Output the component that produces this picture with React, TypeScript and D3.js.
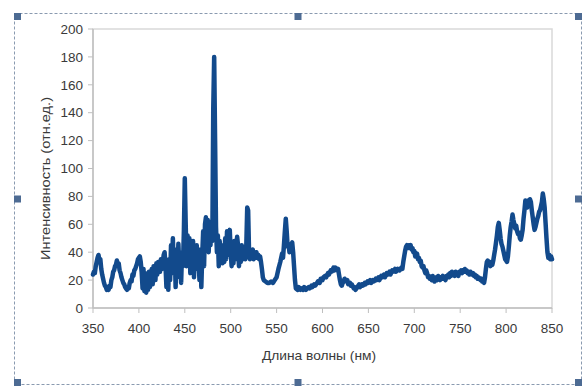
import React from "react";
import * as d3 from "d3";

// Emission spectrum, [wavelength nm, intensity rel. units], split by region

const uvBand: [number, number][] = [
  [350, 24], [351, 26], [352, 25], [353, 30], [354, 33], [355, 36], [356, 38], [357, 34], [358, 35], [359, 28],
  [360, 24], [361, 21], [362, 18], [363, 16], [364, 15], [365, 13], [366, 15], [367, 13], [368, 16], [369, 15],
  [370, 20], [371, 22], [372, 26], [373, 27], [374, 30], [375, 31], [376, 34], [377, 31], [378, 32], [379, 27],
  [380, 25], [381, 22], [382, 20], [383, 18], [384, 17], [385, 15], [386, 14], [387, 13], [388, 15], [389, 14],
  [390, 18], [391, 20], [392, 19], [393, 24], [394, 23], [395, 27], [396, 28], [397, 30], [398, 32], [399, 35],
  [400, 36], [401, 37],
];

const blueBand: [number, number][] = [
  [402, 33], [403, 26], [404, 14], [405, 28], [406, 12], [407, 25], [408, 11], [409, 22], [410, 13], [411, 26],
  [412, 15], [414, 28], [415, 17], [416, 30], [418, 20], [419, 32], [420, 24], [421, 33], [423, 26], [424, 35],
  [425, 28], [427, 38], [428, 40], [429, 30], [430, 15], [431, 28], [432, 13], [433, 35], [434, 20], [435, 45],
  [436, 30], [437, 50], [438, 25], [439, 42], [440, 15], [441, 40], [442, 22], [443, 46], [444, 30], [445, 35],
  [446, 18], [447, 40], [448, 30], [449, 55], [450, 93], [451, 60], [452, 30], [453, 52], [454, 35], [455, 50],
  [456, 25], [457, 45], [458, 30], [459, 48], [460, 22], [461, 40], [462, 28], [463, 45], [464, 30], [465, 35],
  [466, 20], [467, 42], [468, 15], [469, 38], [470, 55], [471, 30], [472, 60], [473, 65], [474, 45], [475, 63],
  [476, 40], [477, 58], [478, 45], [479, 62], [480, 48], [481, 143], [482, 180], [483, 120], [484, 58], [485, 40],
  [486, 52], [487, 30], [488, 48], [489, 35], [490, 45], [491, 32], [492, 40], [493, 33], [494, 50], [495, 35],
  [496, 55], [497, 38], [498, 50], [499, 56], [500, 40],
];

const greenBand: [number, number][] = [
  [501, 30], [502, 45], [503, 32], [504, 48], [505, 35], [506, 40], [507, 51], [508, 45], [509, 30], [510, 42],
  [511, 33], [512, 45], [513, 35], [514, 38], [515, 40], [516, 35], [517, 45], [518, 72], [519, 70], [520, 40],
  [521, 35], [522, 40], [523, 38], [524, 42], [525, 35], [526, 40], [527, 38], [528, 40], [529, 36], [530, 38],
  [531, 35], [532, 37], [533, 33], [534, 28], [535, 22], [536, 20], [538, 19], [540, 18], [542, 18], [544, 19],
  [546, 18], [548, 20], [550, 22], [552, 28], [554, 33], [556, 39], [557, 36], [558, 45], [559, 55], [560, 64],
  [561, 55], [562, 44], [563, 46], [564, 40], [565, 42], [566, 45], [567, 47], [568, 40], [569, 30], [570, 20],
];

const orangeBand: [number, number][] = [
  [571, 14], [573, 13], [574, 15], [576, 13], [577, 14], [579, 13], [580, 15], [582, 13], [583, 14], [585, 15],
  [586, 14], [588, 16], [589, 15], [591, 17], [592, 16], [594, 18], [595, 19], [597, 18], [598, 21], [600, 20],
  [601, 22], [603, 23], [604, 22], [606, 25], [607, 24], [609, 27], [610, 26], [612, 29], [613, 27], [614, 29],
  [616, 27], [617, 28], [618, 24], [619, 20], [620, 17], [621, 16], [622, 18], [623, 19], [624, 21], [625, 20],
  [626, 19], [627, 20], [628, 17], [630, 18], [631, 16], [632, 17], [634, 14], [635, 15], [636, 13], [637, 14],
  [638, 15], [640, 17], [641, 15], [643, 17], [644, 16], [646, 18], [647, 17], [649, 19], [650, 18], [652, 20],
  [653, 18], [655, 20], [656, 19], [658, 21], [659, 20], [661, 22], [662, 20], [664, 23], [665, 22], [667, 24],
  [668, 22], [670, 25], [671, 24], [673, 26], [674, 24], [676, 27], [677, 26], [679, 28], [680, 26], [682, 28],
  [684, 27], [686, 29], [687, 28], [688, 33], [689, 37], [690, 41], [691, 44], [692, 45], [693, 43], [694, 45],
  [695, 44], [696, 45], [697, 42], [698, 43], [699, 40], [700, 41],
];

const redBand: [number, number][] = [
  [701, 37], [702, 38], [703, 39], [704, 35], [705, 36], [706, 33], [707, 34], [708, 30], [709, 29], [710, 30],
  [711, 27], [712, 25], [713, 27], [714, 25], [715, 22], [716, 23], [717, 21], [718, 22], [719, 20], [720, 23],
  [721, 21], [722, 19], [723, 21], [724, 22], [725, 20], [726, 23], [727, 21], [728, 20], [729, 22], [730, 21],
  [731, 23], [732, 21], [733, 22], [734, 20], [735, 23], [736, 22], [737, 24], [738, 22], [739, 25], [740, 23],
  [741, 26], [742, 24], [743, 25], [744, 23], [745, 26], [746, 24], [747, 25], [748, 23], [749, 26], [750, 25],
  [751, 27], [752, 25], [753, 27], [754, 26], [755, 28], [756, 26], [757, 27], [758, 25], [759, 26], [760, 24],
  [761, 26], [762, 25], [763, 24], [764, 25], [765, 23], [766, 24], [767, 22], [768, 23], [769, 21], [770, 22],
  [771, 21], [772, 20], [773, 21], [774, 19], [775, 20], [776, 18],
];

const nearIrBand: [number, number][] = [
  [777, 22], [778, 28], [779, 33], [780, 34], [781, 31], [782, 33], [783, 30], [784, 32], [785, 31], [786, 34],
  [787, 38], [788, 42], [789, 47], [790, 52], [791, 58], [792, 61], [793, 56], [794, 50], [795, 46], [796, 44],
  [797, 41], [798, 38], [799, 35], [800, 34], [801, 33], [802, 37], [803, 44], [804, 52], [805, 58], [806, 62],
  [807, 67], [808, 63], [809, 60], [810, 57], [811, 59], [812, 55], [813, 53], [814, 54], [815, 50], [816, 49],
  [817, 52], [818, 56], [819, 64], [820, 70], [821, 77], [822, 74], [823, 72], [824, 77], [825, 75], [826, 78],
  [827, 76], [828, 70], [829, 65], [830, 60], [831, 56], [832, 58], [833, 61], [834, 64], [835, 66], [836, 69],
  [837, 70], [838, 73], [839, 76], [840, 82], [841, 78], [842, 72], [843, 61], [844, 50], [845, 40], [846, 36],
  [847, 38], [848, 35], [849, 37], [850, 35],
];

const xTicks: number[] = [350, 400, 450, 500, 550, 600, 650, 700, 750, 800, 850];
const yTicks: number[] = [0, 20, 40, 60, 80, 100, 120, 140, 160, 180, 200];

const xTitle = "Длина волны (нм)";
const yTitle = "Интенсивность (отн.ед.)";

const W = 583;
const H = 386;
const plot = { left: 93, right: 552, top: 29, bottom: 308 };
const FONT = "'Liberation Sans', Arial, sans-serif";

export default function App() {
  const x = d3.scaleLinear().domain([350, 850]).range([plot.left, plot.right]);
  const y = d3.scaleLinear().domain([0, 200]).range([plot.bottom, plot.top]);

  const points = [...uvBand, ...blueBand, ...greenBand, ...orangeBand, ...redBand, ...nearIrBand];
  const line = d3
    .line<[number, number]>()
    .x((d) => x(d[0]))
    .y((d) => y(d[1]));

  // selection frame around the chart object
  const frame = { x0: 14, y0: 13, x1: 582, y1: 385 };
  const hs = 7;
  const handles: [number, number][] = [
    [frame.x0, frame.y0],
    [(frame.x0 + frame.x1) / 2 - hs / 2, frame.y0],
    [frame.x1 - hs, frame.y0],
    [frame.x0, (frame.y0 + frame.y1) / 2 - hs / 2],
    [frame.x1 - hs, (frame.y0 + frame.y1) / 2 - hs / 2],
    [frame.x0, frame.y1 - hs + 1],
    [(frame.x0 + frame.x1) / 2 - hs / 2, frame.y1 - hs + 1],
    [frame.x1 - hs, frame.y1 - hs + 1],
  ];

  return (
    <>
      <style>{`body{margin:0}`}</style>
      <svg width={W} height={H} style={{ display: "block", background: "#fff" }}>
        <rect
          x={frame.x0 + 0.5}
          y={frame.y0 + 0.5}
          width={frame.x1 - frame.x0 - 1}
          height={frame.y1 - frame.y0 - 1}
          fill="none"
          stroke="#8a9ab0"
          strokeWidth={1}
          strokeDasharray="3,2"
        />

        {/* plot area frame */}
        <rect
          x={plot.left}
          y={plot.top}
          width={plot.right - plot.left}
          height={plot.bottom - plot.top}
          fill="#fff"
          stroke="#d9d9d9"
          strokeWidth={1.5}
        />

        {/* y axis ticks and labels */}
        {yTicks.map((t) => (
          <g key={`y${t}`}>
            <line x1={plot.left - 5} x2={plot.left} y1={y(t)} y2={y(t)} stroke="#bfbfbf" strokeWidth={1} />
            <text
              x={plot.left - 10}
              y={y(t)}
              dy="0.35em"
              textAnchor="end"
              fontFamily={FONT}
              fontSize={13.5}
              fill="#3a3a3a"
            >
              {t}
            </text>
          </g>
        ))}

        {/* x axis ticks and labels */}
        {xTicks.map((t) => (
          <g key={`x${t}`}>
            <line x1={x(t)} x2={x(t)} y1={plot.bottom} y2={plot.bottom + 5} stroke="#bfbfbf" strokeWidth={1} />
            <text
              x={x(t)}
              y={plot.bottom + 20}
              dy="0.35em"
              textAnchor="middle"
              fontFamily={FONT}
              fontSize={13.5}
              fill="#3a3a3a"
            >
              {t}
            </text>
          </g>
        ))}
        <line x1={plot.left} x2={plot.right} y1={plot.bottom} y2={plot.bottom} stroke="#bfbfbf" strokeWidth={1.5} />
        <line x1={plot.left} x2={plot.left} y1={plot.top} y2={plot.bottom} stroke="#bfbfbf" strokeWidth={1.5} />

        <path
          d={line(points) ?? ""}
          fill="none"
          stroke="#124a8c"
          strokeWidth={4.5}
          strokeLinejoin="round"
          strokeLinecap="round"
        />

        <text
          x={319}
          y={355}
          dy="0.35em"
          textAnchor="middle"
          fontFamily={FONT}
          fontSize={13}
          textLength={114}
          lengthAdjust="spacingAndGlyphs"
          fill="#3a3a3a"
        >
          {xTitle}
        </text>
        <text
          transform={`translate(45,178.5) rotate(-90)`}
          dy="0.35em"
          textAnchor="middle"
          fontFamily={FONT}
          fontSize={13}
          textLength={163}
          lengthAdjust="spacingAndGlyphs"
          fill="#3a3a3a"
        >
          {yTitle}
        </text>

        {handles.map(([hx, hy], i) => (
          <rect key={`h${i}`} x={hx} y={hy} width={hs} height={hs} fill="#4d6b93" />
        ))}
      </svg>
    </>
  );
}
